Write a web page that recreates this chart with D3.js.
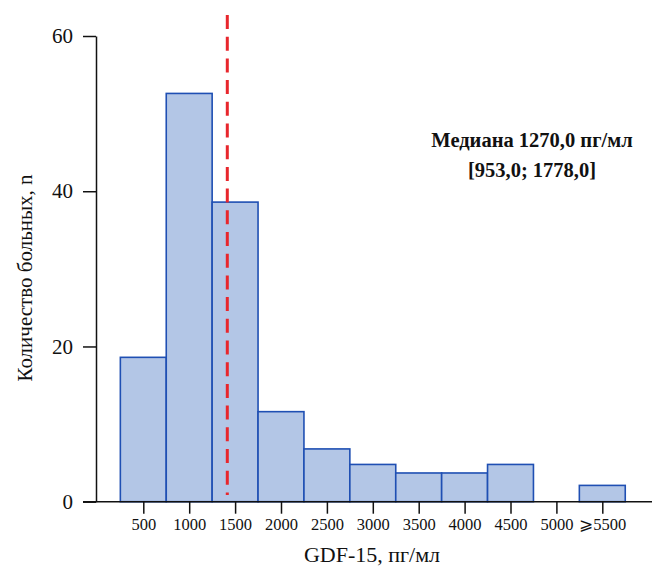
<!DOCTYPE html>
<html>
<head>
<meta charset="utf-8">
<script src="https://cdn.jsdelivr.net/npm/d3@7"></script>
<style>
  body { margin: 0; background: #fff; }
  svg text { font-family: "Liberation Serif", "Times New Roman", serif; fill: #111; }
</style>
</head>
<body>
<div id="chart"></div>
<script>
// Bin centres (pg/ml) and patient counts
const binCenters = [500, 1000, 1500, 2000, 2500, 3000, 3500, 4000, 4500, 5000, 5500];
const counts     = [18.6, 52.6, 38.6, 11.6, 6.8, 4.8, 3.7, 3.7, 4.8, 0, 2.1];
const xTickLabels = ["500", "1000", "1500", "2000", "2500", "3000", "3500", "4000", "4500", "5000", "\u2a7e5500"];
const yTicks = [0, 20, 40, 60];
const medianPos = 1415; // where the dashed line is drawn on the axis
const noteLines = ["Медиана 1270,0 пг/мл", "[953,0; 1778,0]"];

const width = 653, height = 568;

const svg = d3.select("#chart")
    .append("svg")
    .attr("width", width)
    .attr("height", height);

const x = d3.scaleLinear()
    .domain([500, 5500])
    .range([143.3, 602.3]);

const y = d3.scaleLinear()
    .domain([0, 60])
    .range([501.7, 36]);

const half = 250;

// Bars
svg.selectAll(".bar")
    .data(binCenters.map((c, i) => ({ c: c, n: counts[i] })).filter(d => d.n > 0))
    .enter().append("rect")
    .attr("class", "bar")
    .attr("x", d => x(d.c - half))
    .attr("y", d => y(d.n))
    .attr("width", d => x(d.c + half) - x(d.c - half))
    .attr("height", d => y(0) - y(d.n))
    .attr("fill", "#b3c6e6")
    .attr("stroke", "#1f4fb3")
    .attr("stroke-width", 1.6);

// Baseline
svg.append("line")
    .attr("x1", 83).attr("x2", 652)
    .attr("y1", y(0)).attr("y2", y(0))
    .attr("stroke", "#111")
    .attr("stroke-width", 1.5);

// X axis ticks
const xAxis = svg.append("g")
    .attr("transform", `translate(0,${y(0)})`)
    .call(d3.axisBottom(x)
        .tickValues(binCenters)
        .tickFormat((d, i) => xTickLabels[i])
        .tickSize(12)
        .tickPadding(5));
xAxis.select(".domain").remove();
xAxis.selectAll(".tick line").attr("stroke", "#111").attr("stroke-width", 1.5);
xAxis.selectAll(".tick text")
    .style("font-family", "'Liberation Serif', 'DejaVu Serif', serif")
    .style("font-size", "16.5px")
    .attr("fill", "#111");

// Y axis
const yAxis = svg.append("g")
    .attr("transform", "translate(96,0)")
    .call(d3.axisLeft(y)
        .tickValues(yTicks)
        .tickSize(13)
        .tickSizeOuter(0)
        .tickPadding(10));
yAxis.select(".domain").attr("stroke", "#111").attr("stroke-width", 1.5);
yAxis.selectAll(".tick line").attr("stroke", "#111").attr("stroke-width", 1.5);
yAxis.selectAll(".tick text")
    .style("font-family", "'Liberation Serif', serif")
    .style("font-size", "21px")
    .attr("fill", "#111");

// Median line
svg.append("line")
    .attr("x1", x(medianPos)).attr("x2", x(medianPos))
    .attr("y1", 15).attr("y2", 495)
    .attr("stroke", "#e8262c")
    .attr("stroke-width", 3)
    .attr("stroke-dasharray", "14,7.7");

// Axis titles
svg.append("text")
    .attr("transform", "translate(32,278) rotate(-90)")
    .style("text-anchor", "middle")
    .style("font-size", "21px")
    .text("Количество больных, n");

svg.append("text")
    .attr("x", 372)
    .attr("y", 562)
    .style("text-anchor", "middle")
    .style("font-size", "22px")
    .text("GDF-15, пг/мл");

// Median note
svg.selectAll(".note")
    .data(noteLines)
    .enter().append("text")
    .attr("class", "note")
    .attr("x", 532)
    .attr("y", (d, i) => 147 + i * 30)
    .style("text-anchor", "middle")
    .style("font-size", "20.5px")
    .style("font-weight", "bold")
    .text(d => d);
</script>
</body>
</html>
